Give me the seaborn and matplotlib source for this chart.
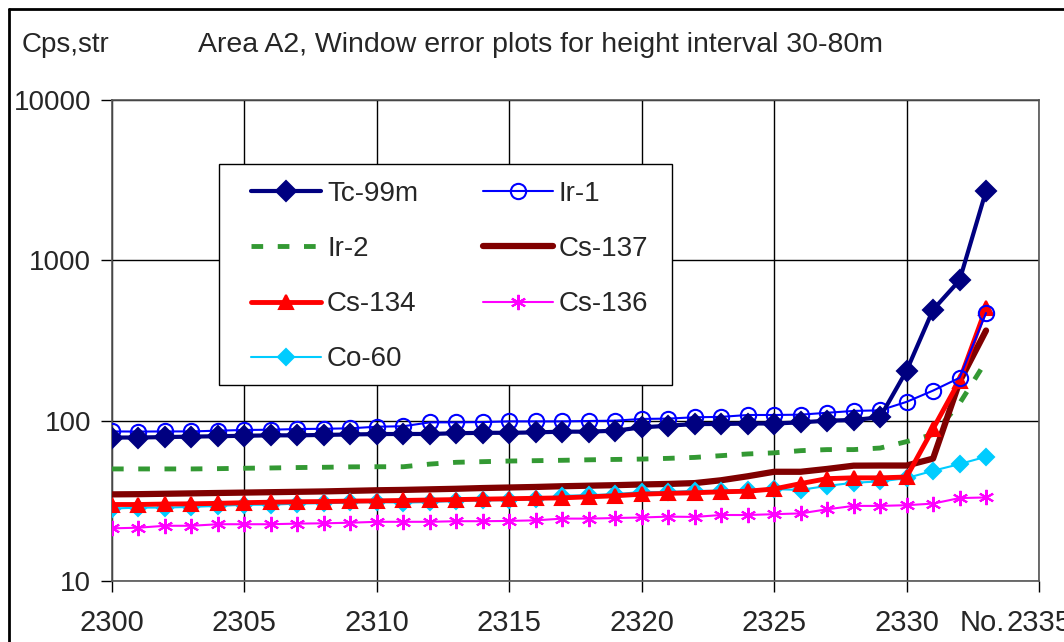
import numpy as np
import pandas as pd
import matplotlib
matplotlib.use("Agg")
import matplotlib.pyplot as plt
import seaborn as sns
from matplotlib.lines import Line2D
from matplotlib.patches import Rectangle

x = list(range(2300, 2334))

tc99m = [78.5, 78.5, 79, 79.5, 80, 80.5, 81, 81, 81.5, 82, 82.5,
         82.6, 82.6, 83.5, 84, 84, 84.5, 85.4, 85.4, 86.6, 90.8, 93,
         95.3, 95.3, 96, 96, 97.6, 100, 101, 105, 205, 492, 750, 2710]
ir1 = [85.7, 85.5, 85.7, 85.7, 86.6, 87.5, 87.8, 88.7, 89, 89.6, 91.7,
       92.3, 97.6, 97.6, 98, 99, 99, 99, 99.5, 100, 102.5, 103,
       105, 105.6, 108.5, 108.5, 109, 112, 115, 116, 131, 154, 185, 469]
ir2 = [50, 50, 50, 50, 50.2, 50.5, 50.7, 51, 51.2, 51.5, 51.6,
       51.6, 53.6, 55, 55.5, 56, 56.3, 56.6, 57, 57.3, 57.6, 58.2,
       59, 60.5, 62, 63, 65, 66, 66, 67.5, 74, 82, 128, 235]
cs137 = [34.7, 34.8, 35, 35.2, 35.4, 35.6, 35.8, 36, 36.2, 36.5, 36.8,
         37, 37.3, 37.6, 38, 38.3, 38.6, 39, 39.3, 39.6, 40, 40.3,
         40.8, 42.5, 45, 48, 48, 50, 52.4, 52.5, 52.5, 58, 175, 365]
cs134 = [30, 30, 30.2, 30.3, 30.5, 30.8, 31, 31.2, 31.3, 31.5, 31.6,
         31.8, 32, 32.2, 32.4, 32.6, 32.8, 33, 33.5, 34, 34.8, 35.2,
         35.5, 36, 36.3, 37.5, 40.5, 43.5, 44, 44, 44.5, 89, 178, 505]
cs136 = [21.3, 21.5, 22.1, 22.1, 22.6, 22.6, 22.6, 22.8, 22.9, 23.1, 23.4,
         23.4, 23.4, 23.6, 23.6, 23.7, 23.9, 24.5, 24.5, 24.7, 24.9, 25.2,
         25.1, 25.8, 25.8, 26.1, 26.4, 28, 29.4, 29.4, 29.7, 30.4, 32.9, 33.2]
co60 = [28.3, 28.7, 28.7, 29, 29.4, 29.9, 29.9, 30.4, 30.6, 30.9, 31.1,
        30.8, 31.1, 31.6, 31.9, 31.9, 32.4, 34, 34.3, 34.8, 35.9, 35.9,
        36.5, 36.5, 37, 37.4, 37, 39.2, 41, 41.8, 43.8, 48.7, 53.6, 59.6]

series_names = ["Tc-99m", "Ir-1", "Ir-2", "Cs-137", "Cs-134", "Cs-136", "Co-60"]
series_values = [tc99m, ir1, ir2, cs137, cs134, cs136, co60]

x_ticks = [2300, 2305, 2310, 2315, 2320, 2325, 2330, 2335]
y_ticks = [10, 100, 1000, 10000]

styles = {
    "Tc-99m": dict(color="#000080", lw=3.0, marker="D", ms=10, mfc="#000080", mec="#000080", ls="-"),
    "Ir-1":   dict(color="#0000FF", lw=1.5, marker="o", ms=11, mfc="none", mec="#0000FF", ls="-"),
    "Ir-2":   dict(color="#339933", lw=3.5, marker=None, ms=0, mfc="none", mec="none", ls=(0, (2.4, 3.0))),
    "Cs-137": dict(color="#800000", lw=4.5, marker=None, ms=0, mfc="none", mec="none", ls="-"),
    "Cs-134": dict(color="#FF0000", lw=3.5, marker="^", ms=10, mfc="#FF0000", mec="#FF0000", ls="-"),
    "Cs-136": dict(color="#FF00FF", lw=1.5, marker=(6, 2, 0), ms=11, mfc="#FF00FF", mec="#FF00FF", ls="-"),
    "Co-60":  dict(color="#00CCFF", lw=1.5, marker="D", ms=8, mfc="#00CCFF", mec="#00CCFF", ls="-"),
}

sns.set_style("white")
plt.rcParams["font.family"] = ["Liberation Sans", "DejaVu Sans"]

fig = plt.figure(figsize=(10.64, 6.42), dpi=100)
W, H = 1064, 642
ax = fig.add_axes([112 / W, 1 - 581 / H, (1039 - 112) / W, (581 - 100) / H])

draw_order = ["Ir-2", "Cs-137", "Co-60", "Cs-136", "Cs-134", "Ir-1", "Tc-99m"]
for name in draw_order:
    vals = series_values[series_names.index(name)]
    st = styles[name]
    df = pd.DataFrame({"x": x, "y": vals})
    sns.lineplot(data=df, x="x", y="y", ax=ax, color=st["color"], linewidth=st["lw"],
                 linestyle=st["ls"], marker=st["marker"], markersize=st["ms"],
                 markerfacecolor=st["mfc"], markeredgecolor=st["mec"],
                 markeredgewidth=1.5, legend=False, zorder=3)

ax.set_yscale("log")
ax.set_ylim(10, 10000)
ax.set_xlim(2300, 2335)
ax.set_xticks(x_ticks)
ax.set_xticklabels([str(t) for t in x_ticks])
ax.set_yticks(y_ticks)
ax.set_yticklabels([str(t) for t in y_ticks])
ax.yaxis.set_minor_locator(matplotlib.ticker.NullLocator())
ax.set_xlabel("")
ax.set_ylabel("")
ax.grid(True, which="major", color="#000000", lw=1.0)
ax.tick_params(axis="x", which="major", direction="out", length=8, width=1.0,
               labelsize=21, color="#000000", pad=12, bottom=True)
ax.tick_params(axis="y", which="major", direction="out", length=8, width=1.0,
               labelsize=20, color="#000000", pad=7, left=True)
for sp in ax.spines.values():
    sp.set_color("#555555")
    sp.set_linewidth(1.2)

# legend: frame drawn separately, entries placed inside
fig.add_artist(Rectangle((219 / W, 1 - 385 / H), (672 - 219) / W, (385 - 164) / H,
                         transform=fig.transFigure, facecolor="white",
                         edgecolor="black", lw=1.0, zorder=5))
handles = {}
for name in series_names:
    st = styles[name]
    handles[name] = Line2D([0], [0], color=st["color"], lw=st["lw"], ls=st["ls"],
                           marker=st["marker"], markersize=st["ms"],
                           markerfacecolor=st["mfc"], markeredgecolor=st["mec"],
                           markeredgewidth=1.5)
order = ["Tc-99m", "Ir-2", "Cs-134", "Co-60", "Ir-1", "Cs-137", "Cs-136"]
leg = fig.legend([handles[n] for n in order], order, ncol=2, loc="upper left",
                 bbox_to_anchor=(251 / W, 1 - 181 / H), bbox_transform=fig.transFigure,
                 fontsize=20, frameon=False, borderpad=0, labelspacing=1.05,
                 handlelength=2.52, handletextpad=0.22, columnspacing=2.32,
                 borderaxespad=0)
leg.set_zorder(6)

fig.text(22 / W, 1 - 45 / H, "Cps,str", fontsize=20, va="center", ha="left")
fig.text(541 / W, 1 - 45 / H, "Area A2, Window error plots for height interval 30-80m",
         fontsize=20.5, va="center", ha="center")
fig.text(960 / W, 1 - 623 / H, "No.", fontsize=21, va="center", ha="left")

# outer chart frame (left and top edges visible)
fig.add_artist(Line2D([8.5 / W, 8.5 / W], [0, 1 - 9 / H], transform=fig.transFigure, color="black", lw=2))
fig.add_artist(Line2D([8.5 / W, 1], [1 - 9 / H, 1 - 9 / H], transform=fig.transFigure, color="black", lw=2))

fig.savefig("out.png", dpi=100)
